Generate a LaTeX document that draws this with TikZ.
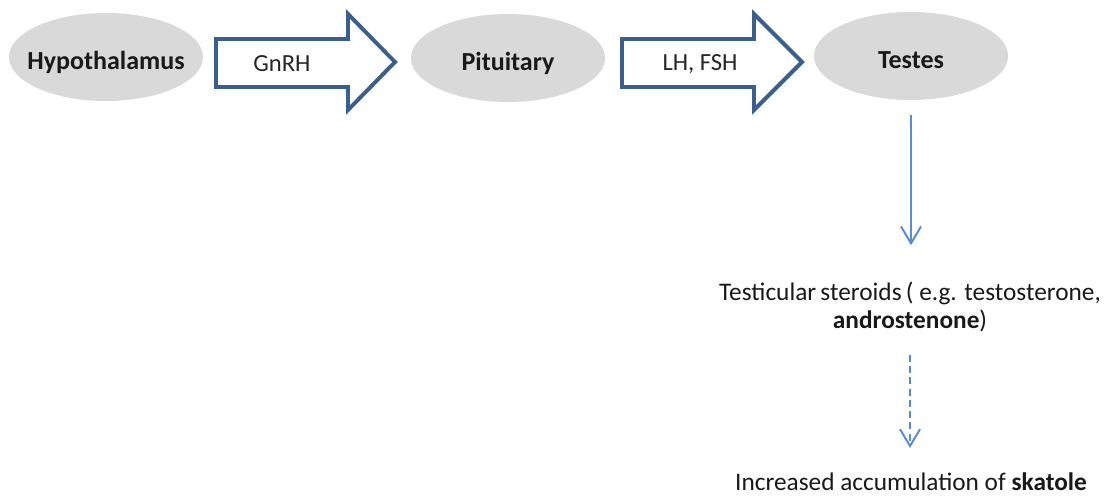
\documentclass[tikz,border=0pt]{standalone}
\usepackage{fontspec}
\setmainfont{Carlito}
\usetikzlibrary{positioning,arrows.meta,shapes.geometric}
\definecolor{organfill}{HTML}{D9D9D9}
\definecolor{blockblue}{HTML}{3B5F8C}
\definecolor{flowblue}{HTML}{5A8AD0}
\begin{document}
\begin{tikzpicture}[
        x=0.025cm, y=-0.025cm,
        organ/.style={ellipse, fill=organfill, text=black!90, inner xsep=-12pt, inner ysep=0pt, text height=17.6pt, text depth=0pt, minimum width=4.85cm, minimum height=2.2cm, font=\fontsize{18.5}{22}\selectfont\bfseries},
        blockarrow/.style={draw=blockblue, line width=2.8pt, fill=white, line join=miter},
        hormone/.style={text=black!85, font=\fontsize{17.5}{20}\selectfont},
        effect/.style={text=black!90, align=center, inner sep=0pt, font=\fontsize{18}{20.6}\selectfont},
        flow/.style={draw=flowblue, line width=1.4pt, -{Straight Barb[length=0.42cm, width=0.5cm, line width=1.4pt]}}
    ]
    \useasboundingbox (0,0) rectangle (1110,497);

    % Organs along the axis
    \node[organ] (hypo) at (106,57) {Hypothalamus};
    \node[organ] (pit) at (508,58) {Pituitary};
    \node[organ] (testes) at (911,56) {Testes};

    % Block arrows with hormones
    \draw[blockarrow] (216,39) -- (348,39) -- (348,14) -- (395,62) -- (348,110) -- (348,87) -- (216,87) -- cycle;
    \node[hormone] (gnrh) at (282,64) {GnRH};
    \draw[blockarrow] (622,39) -- (754,39) -- (754,14) -- (802,62) -- (754,110) -- (754,87) -- (622,87) -- cycle;
    \node[hormone] (lhfsh) at (700,64) {LH, FSH};

    % Effects below the testes
    \node[effect] (steroids) at (910,307) {Testicular\,steroids\,( e.g. testosterone,\\\textbf{androstenone})};
    \node[effect, anchor=base] (skatole) at (911,490) {Increased accumulation of \textbf{skatole}};

    \draw[flow, shorten <=0.375cm, shorten >=0.9cm] (testes.south) -- (testes.south |- steroids.north);
    \draw[flow, dashed, dash pattern=on 5pt off 3pt, shorten <=0.55cm, shorten >=0.6cm] (steroids.south) -- (steroids.south |- skatole.north);
\end{tikzpicture}
\end{document}
